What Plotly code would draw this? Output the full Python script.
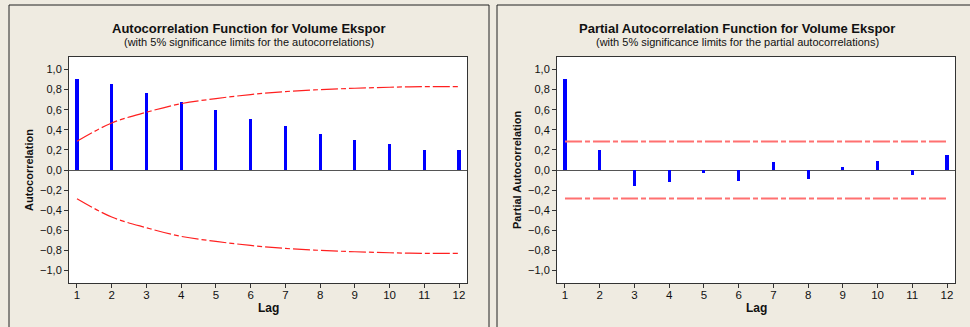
import plotly.graph_objects as go

W, H = 970, 327

lags = list(range(1, 13))
acf_values = [0.907, 0.860, 0.767, 0.681, 0.601, 0.508, 0.442, 0.359, 0.299, 0.256, 0.203, 0.196]
acf_limit = [0.286, 0.468, 0.575, 0.661, 0.711, 0.751, 0.781, 0.800, 0.814, 0.824, 0.830, 0.830]
pacf_values = [0.907, 0.200, -0.163, -0.120, -0.030, -0.106, 0.080, -0.090, 0.030, 0.093, -0.047, 0.146]
pacf_limit = [0.284] * 12
y_ticks = [1.0, 0.8, 0.6, 0.4, 0.2, 0.0, -0.2, -0.4, -0.6, -0.8, -1.0]

titles = ["Autocorrelation Function for Volume Ekspor",
          "Partial Autocorrelation Function for Volume Ekspor"]
subtitles = ["(with 5% significance limits for the autocorrelations)",
             "(with 5% significance limits for the partial autocorrelations)"]
ylabels = ["Autocorrelation", "Partial Autocorrelation"]

BG = "#EFEBE1"
FONT = "Liberation Sans"
dash = "17px,3px,5px,3px"

fig = go.Figure()

# ACF
fig.add_trace(go.Bar(x=lags, y=acf_values, width=0.09, marker=dict(color="#0000FF", line=dict(width=0)),
                     xaxis="x", yaxis="y", showlegend=False))
fig.add_trace(go.Scatter(x=lags, y=acf_limit, mode="lines", line=dict(color="#FF2020", width=1.2, dash=dash, shape="spline"),
                         xaxis="x", yaxis="y", showlegend=False))
fig.add_trace(go.Scatter(x=lags, y=[-v for v in acf_limit], mode="lines", line=dict(color="#FF2020", width=1.2, dash=dash, shape="spline"),
                         xaxis="x", yaxis="y", showlegend=False))
# PACF
fig.add_trace(go.Bar(x=lags, y=pacf_values, width=0.09, marker=dict(color="#0000FF", line=dict(width=0)),
                     xaxis="x2", yaxis="y2", showlegend=False))
fig.add_trace(go.Scatter(x=lags, y=pacf_limit, mode="lines", line=dict(color="#FF7070", width=2, dash=dash),
                         xaxis="x2", yaxis="y2", showlegend=False))
fig.add_trace(go.Scatter(x=lags, y=[-v for v in pacf_limit], mode="lines", line=dict(color="#FF7070", width=2, dash=dash),
                         xaxis="x2", yaxis="y2", showlegend=False))

ydom = [1 - 283 / H, 1 - 57 / H]
xdoms = [[69 / W, 467 / W], [557 / W, 955 / W]]

common_x = dict(range=[0.77, 12.23], tickmode="array", tickvals=lags, ticktext=[str(l) for l in lags],
                ticks="outside", ticklen=4, tickcolor="#333", showline=True, linecolor="#333", linewidth=1,
                mirror=True, showgrid=False, zeroline=False, ticklabelstandoff=-3,
                tickfont=dict(family=FONT, size=11.5, color="#111"))
common_y = dict(range=[-1.125, 1.125], tickmode="array", tickvals=y_ticks, tickformat=".1f",
                ticks="outside", ticklen=4, tickcolor="#333", showline=True, linecolor="#333", linewidth=1,
                mirror=True, showgrid=False, zeroline=True, zerolinecolor="#555", zerolinewidth=1,
                tickfont=dict(family=FONT, size=11, color="#111"))

fig.update_layout(
    width=W, height=H, margin=dict(l=0, r=0, t=0, b=0),
    paper_bgcolor=BG, plot_bgcolor="white", separators=",.",
    bargap=0,
    xaxis=dict(domain=xdoms[0], anchor="y", **common_x),
    yaxis=dict(domain=ydom, anchor="x", **common_y),
    xaxis2=dict(domain=xdoms[1], anchor="y2", **common_x),
    yaxis2=dict(domain=ydom, anchor="x2", **common_y),
)

# Panel borders
for x0, x1 in [(9, 489), (497, 975)]:
    fig.add_shape(type="rect", xref="paper", yref="paper", x0=x0 / W, x1=x1 / W, y0=-0.05, y1=1 - 5 / H,
                  line=dict(color="#222", width=1), fillcolor="rgba(0,0,0,0)", layer="below")

centers = [249, 737]
plot_centers = [268, 756]
ylab_x = [29, 517]
for i in range(2):
    fig.add_annotation(x=centers[i] / W, y=1 - 29 / H, xref="paper", yref="paper", text="<b>" + titles[i] + "</b>",
                       showarrow=False, font=dict(family=FONT, size=13, color="#111"), xanchor="center", yanchor="middle")
    fig.add_annotation(x=centers[i] / W, y=1 - 42 / H, xref="paper", yref="paper", text=subtitles[i],
                       showarrow=False, font=dict(family=FONT, size=11, color="#111"), xanchor="center", yanchor="middle")
    fig.add_annotation(x=plot_centers[i] / W, y=1 - 308 / H, xref="paper", yref="paper", text="<b>Lag</b>",
                       showarrow=False, font=dict(family=FONT, size=12, color="#111"), xanchor="center", yanchor="middle")
    fig.add_annotation(x=ylab_x[i] / W, y=1 - 170 / H, xref="paper", yref="paper", text="<b>" + ylabels[i] + "</b>",
                       showarrow=False, textangle=-90, font=dict(family=FONT, size=11, color="#111"),
                       xanchor="center", yanchor="middle")

fig.write_html("out.html", config={"displayModeBar": False},
               post_script="document.body.style.margin='0';document.body.style.overflow='hidden';")
